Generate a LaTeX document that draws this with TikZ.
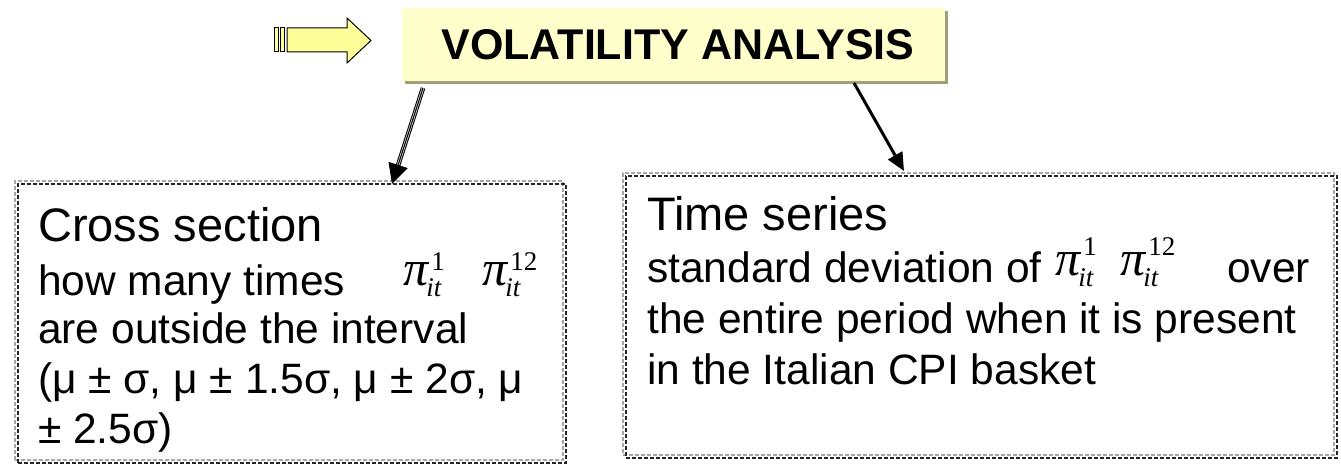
\documentclass[tikz,border=0pt]{standalone}
\usepackage{fontspec}
\setmainfont{Liberation Sans}
\newfontfamily\tms{Liberation Serif}
\usetikzlibrary{arrows.meta,shadows}
\definecolor{titlefill}{HTML}{FFFFCC}
\definecolor{shadowc}{HTML}{A09F78}
\definecolor{arrowfill}{HTML}{FFFF99}
\newcommand{\pisc}[2]{{\fontsize{50}{50}\selectfont\tms\itshape π}\kern-2pt\rlap{\kern5pt\raisebox{#2}{\fontsize{27}{27}\selectfont\tms #1}}\raisebox{-11pt}{\fontsize{27}{27}\selectfont\tms\itshape it}}
\begin{document}
\begin{tikzpicture}[x=1pt,y=-1pt,
  titlebox/.style={fill=titlefill, minimum width=543pt, minimum height=73pt, inner sep=0pt,
    drop shadow={shadow xshift=3pt, shadow yshift=-3pt, fill=shadowc, opacity=1},
    font=\fontsize{43}{43}\selectfont\bfseries},
  head/.style={anchor=base west, inner sep=0pt, font=\fontsize{47}{50}\selectfont},
  body/.style={anchor=base west, inner sep=0pt, font=\fontsize{42.5}{50}\selectfont},
  pinode/.style={anchor=base west, inner sep=0pt},
  greybox/.style={draw=gray!70, line width=1.1pt, dash pattern=on 4pt off 2pt, inner sep=0pt},
  blackbox/.style={draw=black!85, line width=1.1pt, dash pattern=on 4pt off 2pt, inner sep=0pt},
  blockarrow/.style={fill=arrowfill, draw=black, line width=1pt, line join=miter},
  tripleline/.style={draw=black, line width=1pt, double=gray!40, double distance=2.6pt},
]
\useasboundingbox (0,0) rectangle (1341,465);

% title box
\node[titlebox] (title) at (673.5,44.5) {\hspace{9pt}\raisebox{-2pt}{VOLATILITY ANALYSIS}};

% striped block arrow
\draw[blockarrow] (274,28) rectangle (278,52);
\draw[blockarrow] (280,28) rectangle (284,52);
\draw[blockarrow] (287,28) -- (347,28) -- (347,18) -- (371,40.5) -- (347,63) -- (347,52) -- (287,52) -- cycle;

% boxes
\node[greybox, minimum width=548pt, minimum height=279pt] (lboxg) at (289,320.5) {};
\node[blackbox, minimum width=548pt, minimum height=279pt] (lbox) at (292,323.5) {};
\node[greybox, minimum width=711pt, minimum height=282pt] (rboxg) at (978.5,314) {};
\node[blackbox, minimum width=711pt, minimum height=282pt] (rbox) at (981.5,317) {};

% left box text
\node[head] (cs) at (38,241) {Cross section};
\node[body] (cs1) at (38,295) {how many times};
\node[pinode] (p1) at (403,285) {\pisc{1}{15pt}};
\node[pinode] (p2) at (482,285) {\pisc{12}{15pt}};
\node[body] (cs2) at (38,343) {are outside the interval};
\node[body] (cs3) at (38,393) {(μ ± σ, μ ± 1.5σ, μ ± 2σ, μ};
\node[body] (cs4) at (38,443) {± 2.5σ)};

% right box text
\node[head] (ts) at (647,230) {Time series};
\node[body] (ts1) at (647,282) {standard deviation of};
\node[pinode] (p3) at (1055,275) {\pisc{1}{20pt}};
\node[pinode] (p4) at (1120,275) {\pisc{12}{20pt}};
\node[body] (ts2) at (1227,282) {over};
\node[body] (ts3) at (647,333) {the entire period when it is present};
\node[body] (ts4) at (647,384) {in the Italian CPI basket};

% connectors
\coordinate (la) at (423,88);
\coordinate (lb) at (392,184);
\coordinate (ra) at (854,83);
\coordinate (rb) at (904,171);
\draw[tripleline, shorten >=18pt] (la) -- (lb);
\draw[line width=1pt, -{Triangle[length=20pt,width=20pt]}] (la) -- (lb);
\draw[line width=3pt, -{Triangle[length=18pt,width=16pt]}] (ra) -- (rb);
\end{tikzpicture}
\end{document}
